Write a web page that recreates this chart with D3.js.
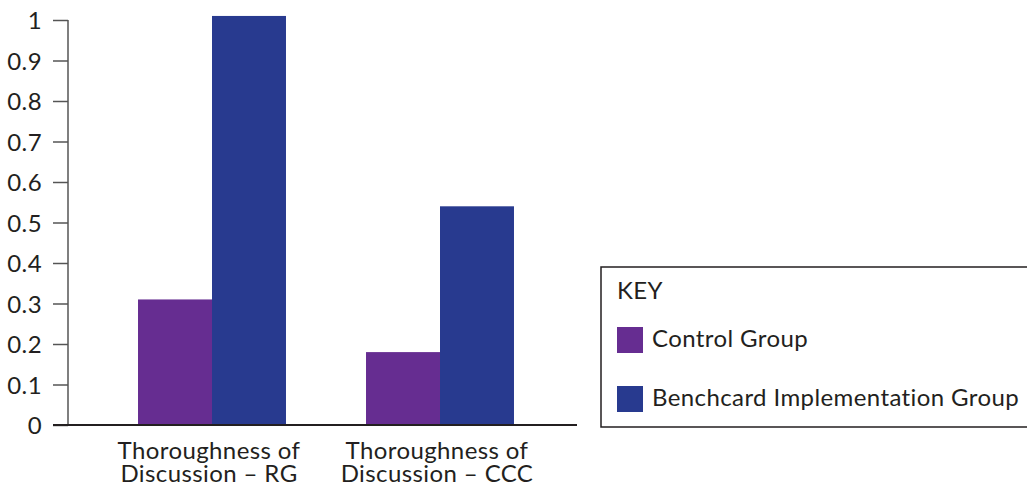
<!DOCTYPE html>
<html><head><meta charset="utf-8">
<script src="https://cdn.jsdelivr.net/npm/d3@7"></script>
<style>body{margin:0;background:#fff}svg{display:block}text{font-family:Lato,"Noto Sans",sans-serif;fill:#231f20;letter-spacing:0.4px}</style>
</head><body>
<svg id="c" width="1027" height="487"></svg>
<script>
const categories = [["Thoroughness of","Discussion – RG"],["Thoroughness of","Discussion – CCC"]];
const seriesNames = ["Control Group","Benchcard Implementation Group"];
const controlValues = [0.31, 0.18];
const benchValues = [1.01, 0.54];
const yTicks = [0,0.1,0.2,0.3,0.4,0.5,0.6,0.7,0.8,0.9,1];
const yTickLabels = ["0","0.1","0.2","0.3","0.4","0.5","0.6","0.7","0.8","0.9","1"];
const colors = ["#662d91","#283a8f"];

const svg = d3.select("#c");
const y = d3.scaleLinear().domain([0,1]).range([425,20]);
const x0 = d3.scaleBand().domain(d3.range(categories.length)).range([98,554]).paddingInner(0.351).paddingOuter(0.1755);
const x1 = d3.scaleBand().domain(d3.range(seriesNames.length)).range([0,x0.bandwidth()]);
const series = [controlValues, benchValues];

// bars
categories.forEach((c,i)=>{
  series.forEach((vals,s)=>{
    svg.append("rect").attr("x",x0(i)+x1(s)).attr("width",x1.bandwidth())
      .attr("y",y(vals[i])).attr("height",y(0)-y(vals[i])).attr("fill",colors[s]);
  });
});

// y axis
const yAxis = d3.axisLeft(y).tickValues(yTicks).tickFormat((d,i)=>yTickLabels[i]).tickSize(15).tickPadding(11);
const ga = svg.append("g").attr("transform","translate(68,0)").call(yAxis);
ga.select(".domain").attr("stroke","#555").attr("stroke-width",1.5).attr("d","M0,20V425");
ga.selectAll(".tick line").attr("stroke","#555").attr("stroke-width",1.5);
ga.selectAll(".tick text").style("font-size","24px").attr("fill","#231f20").attr("dy","0.36em");

// baseline
svg.append("line").attr("x1",53).attr("x2",577).attr("y1",y(0)).attr("y2",y(0)).attr("stroke","#231f20").attr("stroke-width",1.8);

// x labels
categories.forEach((c,i)=>{
  const cx = x0(i)+x0.bandwidth()/2 - 3;
  const t = svg.append("text").attr("text-anchor","middle").style("font-size","24px");
  c.forEach((line,k)=>t.append("tspan").attr("x",cx).attr("y",459+k*23).text(line));
});

// legend
const lg = svg.append("g");
lg.append("path").attr("d","M1030,267H601V427H1030").attr("fill","none").attr("stroke","#231f20").attr("stroke-width",1.5);
lg.append("text").attr("x",617).attr("y",299).style("font-size","24px").text("KEY");
seriesNames.forEach((n,s)=>{
  const yy = 327 + s*59;
  lg.append("rect").attr("x",617).attr("y",yy).attr("width",26).attr("height",26).attr("fill",colors[s]);
  lg.append("text").attr("x",652).attr("y",yy+20).style("font-size","24px").text(n);
});
</script>
</body></html>
